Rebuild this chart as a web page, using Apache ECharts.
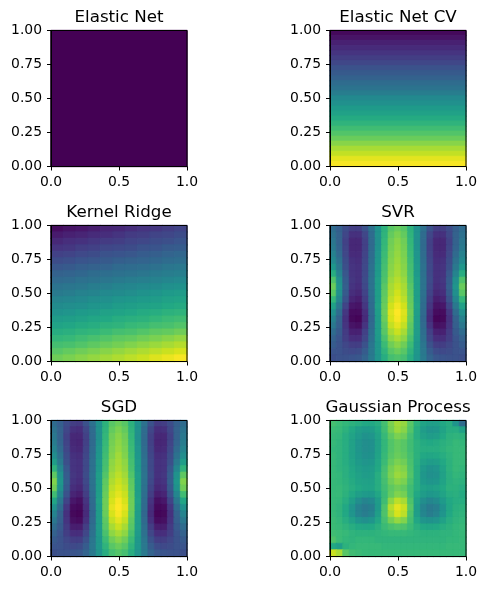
<!DOCTYPE html>
<html>
<head>
<meta charset="utf-8">
<style>html,body{margin:0;padding:0;background:#fff}#chart{width:486px;height:590px}</style>
<script src="https://cdn.jsdelivr.net/npm/echarts@6/dist/echarts.min.js"></script>
</head>
<body>
<div id="chart"></div>
<script>
var titles = ['Elastic Net', 'Elastic Net CV', 'Kernel Ridge', 'SVR', 'SGD', 'Gaussian Process'];
var xTickLabels = [0, 0.5, 1];
var yTickLabels = [0, 0.25, 0.5, 0.75, 1];
var viridis = ['#440154','#481a6c','#472f7d','#414487','#39568c','#31688e','#2a788e','#23888e','#1f988b','#22a884','#35b779','#54c568','#7ad151','#a5db36','#d2e21b','#fde725'];

var elasticNet = [[0]];
var elasticNetCV = [[2],[5],[9],[12],[15],[18],[21],[25],[28],[31],[35],[38],[42],[47],[50],[54],[57],[61],[65],[69],[73],[77],[82],[87],[91],[96],[99]];
var kernelRidge = [
[3,5,6,8,10,11,13,15,16,18,20],
[7,9,10,12,13,15,17,18,20,21,23],
[11,13,14,16,17,18,20,21,23,24,26],
[15,16,18,19,21,22,23,25,26,28,29],
[19,20,22,23,25,26,27,29,30,32,33],
[23,24,26,27,28,30,31,32,33,35,36],
[27,28,30,31,32,34,35,36,37,39,40],
[31,32,33,35,36,37,38,39,41,42,43],
[34,35,37,38,39,41,42,43,44,46,47],
[38,39,40,42,43,45,46,47,48,50,51],
[41,42,44,45,47,48,49,51,52,54,55],
[45,46,47,49,50,52,53,54,55,57,58],
[48,49,50,52,53,55,56,57,58,60,61],
[51,52,54,55,57,58,59,61,62,64,65],
[55,56,57,59,60,62,63,64,66,68,69],
[58,59,61,62,64,65,67,68,70,71,73],
[62,63,65,66,68,70,71,73,75,76,78],
[66,67,69,71,73,75,76,78,80,82,84],
[70,71,73,75,77,79,81,83,85,87,89],
[74,76,78,80,82,84,86,88,90,92,94],
[78,80,82,84,86,88,90,92,95,97,99]];
var svr = [
[35,30,23,18,18,25,37,51,64,74,77,74,64,51,37,25,18,18,23,30,35],
[37,31,21,14,14,21,35,51,65,76,80,76,65,51,35,21,14,14,21,31,37],
[39,31,19,11,11,19,34,50,66,78,82,78,66,50,34,19,11,11,19,31,39],
[41,32,20,11,11,19,34,51,67,79,83,79,67,51,34,19,11,11,20,32,41],
[44,34,21,12,12,20,35,52,68,80,84,80,68,52,35,20,12,12,21,34,44],
[47,37,23,14,13,21,36,53,69,81,85,81,69,53,36,21,13,14,23,37,47],
[53,40,24,15,14,22,37,54,70,82,86,82,70,54,37,22,14,15,24,40,53],
[62,45,27,15,14,22,37,54,71,83,87,83,71,54,37,22,14,15,27,45,62],
[72,50,29,16,14,23,38,56,72,85,89,85,72,56,38,23,14,16,29,50,72],
[77,52,30,15,13,22,38,56,74,87,91,87,74,56,38,22,13,15,30,52,77],
[74,50,28,13,11,20,37,56,75,88,93,88,75,56,37,20,11,13,28,50,74],
[66,46,25,10,8,18,36,56,76,90,95,90,76,56,36,18,8,10,25,46,66],
[57,40,20,6,5,16,35,57,77,93,98,93,77,57,35,16,5,6,20,40,57],
[50,35,16,3,3,13,34,56,78,95,100,95,78,56,34,13,3,3,16,35,50],
[44,31,14,2,1,12,33,55,77,94,99,94,77,55,33,12,1,2,14,31,44],
[40,30,15,5,4,15,34,55,75,91,96,91,75,55,34,15,4,5,15,30,40],
[35,28,17,9,9,19,36,55,74,87,92,87,74,55,36,19,9,9,17,28,35],
[31,26,18,13,13,21,37,54,71,83,87,83,71,54,37,21,13,13,18,26,31],
[29,25,21,18,18,25,39,53,68,78,82,78,68,53,39,25,18,18,21,25,29],
[26,25,23,22,23,29,40,53,65,74,77,74,65,53,40,29,23,22,23,25,26],
[24,25,25,26,27,32,41,52,62,70,72,70,62,52,41,32,27,26,25,25,24]];
var sgd = [
[35,30,23,18,17,25,37,51,64,74,77,74,64,51,37,25,17,18,23,30,35],
[38,31,21,14,13,21,35,51,65,76,80,76,65,51,35,21,13,14,21,31,38],
[40,31,19,11,11,19,34,50,66,78,82,78,66,50,34,19,11,11,19,31,40],
[42,32,20,11,10,19,34,51,67,79,83,79,67,51,34,19,10,11,20,32,42],
[45,34,21,12,11,20,35,52,68,80,84,80,68,52,35,20,11,12,21,34,45],
[49,37,23,14,13,21,36,53,69,81,86,81,69,53,36,21,13,14,23,37,49],
[56,41,24,15,14,22,37,54,70,83,87,83,70,54,37,22,14,15,24,41,56],
[65,46,27,15,14,22,37,54,71,84,88,84,71,54,37,22,14,15,27,46,65],
[75,51,29,16,14,23,38,56,73,86,90,86,73,56,38,23,14,16,29,51,75],
[81,53,30,15,13,22,38,56,75,88,92,88,75,56,38,22,13,15,30,53,81],
[78,51,28,13,11,20,37,56,76,90,94,90,76,56,37,20,11,13,28,51,78],
[69,46,25,10,8,18,36,56,77,92,96,92,77,56,36,18,8,10,25,46,69],
[59,40,20,6,4,15,35,57,78,94,99,94,78,57,35,15,4,6,20,40,59],
[51,35,16,3,2,13,34,56,78,96,100,96,78,56,34,13,2,3,16,35,51],
[45,31,14,2,1,12,33,55,77,94,99,94,77,55,33,12,1,2,14,31,45],
[40,30,15,4,3,14,34,55,75,91,96,91,75,55,34,14,3,4,15,30,40],
[35,28,17,8,8,18,36,55,74,87,92,87,74,55,36,18,8,8,17,28,35],
[31,26,18,13,13,21,37,54,71,83,87,83,71,54,37,21,13,13,18,26,31],
[28,25,21,18,18,25,39,53,68,78,82,78,68,53,39,25,18,18,21,25,28],
[26,25,23,22,23,29,40,53,65,74,77,74,65,53,40,29,23,22,23,25,26],
[24,25,25,26,27,32,41,52,62,70,73,70,62,52,41,32,27,26,25,25,24]];
var gaussianProcess = [
[70,68,66,64,62,60,60,62,70,80,86,84,74,64,58,56,56,60,62,52,35],
[68,67,64,60,56,54,55,60,69,79,85,82,73,62,55,52,53,58,62,62,57],
[67,66,62,58,54,51,52,58,67,75,80,78,70,62,57,55,56,60,64,65,64],
[67,65,62,57,52,49,50,57,66,73,76,74,69,64,61,60,61,63,65,67,66],
[66,65,62,57,52,49,50,57,66,73,76,74,69,64,62,62,62,64,66,67,67],
[67,65,62,57,53,50,51,58,67,74,77,75,70,64,60,59,60,62,65,67,67],
[67,65,62,58,54,52,53,59,68,76,80,78,71,63,57,55,56,60,64,67,67],
[67,65,63,59,56,54,55,60,70,79,83,81,72,62,54,51,52,58,64,67,66],
[67,66,63,60,57,55,56,62,71,80,85,83,73,62,53,50,51,57,63,66,65],
[67,66,64,61,58,57,57,62,70,78,82,80,71,62,54,52,53,58,63,65,64],
[67,67,65,62,60,58,58,62,69,75,78,76,69,62,57,56,57,60,64,64,62],
[67,67,64,60,56,54,54,59,68,76,81,79,69,60,55,53,54,58,62,63,61],
[67,66,62,56,49,45,47,55,69,83,90,87,72,57,49,46,48,54,60,62,62],
[67,65,60,52,44,41,43,54,72,89,96,92,74,55,45,41,43,51,59,63,64],
[67,65,60,52,45,42,45,56,72,86,94,90,72,56,46,42,45,52,60,64,65],
[68,66,62,57,52,50,52,59,70,79,84,81,70,59,52,51,52,57,62,65,66],
[68,67,65,62,60,59,60,63,68,71,73,72,68,63,60,59,60,62,64,66,67],
[69,68,67,65,64,64,64,65,66,67,67,67,66,65,64,64,64,65,65,66,67],
[72,68,66,65,66,66,66,65,65,65,65,65,65,65,65,65,65,65,66,66,67],
[60,56,64,66,67,67,67,67,66,66,66,66,66,66,66,66,66,66,67,67,67],
[92,87,74,69,68,67,67,67,67,67,67,67,67,67,67,67,67,67,67,67,67]];

var panels = [elasticNet, elasticNetCV, kernelRidge, svr, sgd, gaussianProcess];
var lefts = [51, 330];
var tops = [30.5, 225.5, 420.5];
var size = 136;
var font = '"DejaVu Sans"';

var option = {animation:false, backgroundColor:'#fff', title:[], grid:[], xAxis:[], yAxis:[], series:[]};

function range(n){var a=[];for(var i=0;i<n;i++)a.push(String(i));return a;}

panels.forEach(function(rows,p){
  var left = lefts[p%2], top = tops[Math.floor(p/2)];
  option.title.push({text:titles[p], left:left+size/2, top:top-21, padding:0, textAlign:'center',
    textStyle:{fontFamily:font, fontSize:16.7, fontWeight:'normal', color:'#000'}});
  option.grid.push({left:left, top:top, width:size, height:size});
  option.xAxis.push({gridIndex:p, type:'category', show:false, data:range(rows[0].length)});
  option.yAxis.push({gridIndex:p, type:'category', show:false, inverse:true, data:range(rows.length)});
  var data=[];
  rows.forEach(function(r,j){r.forEach(function(v,i){
    var c = echarts.color.lerp(v/100, viridis);
    data.push({value:[i,j,v], itemStyle:{color:c, borderColor:c, borderWidth:0.7}});
  });});
  option.series.push({type:'heatmap', xAxisIndex:p, yAxisIndex:p, data:data, progressive:0, silent:true, z:1});
});
panels.forEach(function(rows,p){
  var left = lefts[p%2], top = tops[Math.floor(p/2)];
  option.grid.push({left:left, top:top, width:size, height:size, show:true, z:5,
    backgroundColor:'transparent', borderColor:'#000', borderWidth:1});
  var style = {fontFamily:font, fontSize:13.9, color:'#000'};
  option.xAxis.push({gridIndex:6+p, type:'value', min:0, max:1, interval:xTickLabels[1]-xTickLabels[0], z:6,
    axisLine:{show:true,onZero:false,lineStyle:{color:'#000',width:1}},
    axisTick:{show:true,length:4,lineStyle:{color:'#000',width:1}},
    splitLine:{show:false},
    axisLabel:Object.assign({margin:9,showMinLabel:true,showMaxLabel:true,hideOverlap:false,formatter:function(v){return v.toFixed(1);}},style)});
  option.yAxis.push({gridIndex:6+p, type:'value', min:0, max:1, interval:yTickLabels[1]-yTickLabels[0], z:6,
    axisLine:{show:true,onZero:false,lineStyle:{color:'#000',width:1}},
    axisTick:{show:true,length:4,lineStyle:{color:'#000',width:1}},
    splitLine:{show:false},
    axisLabel:Object.assign({margin:9,showMinLabel:true,showMaxLabel:true,hideOverlap:false,formatter:function(v){return v.toFixed(2);}},style)});
});
var chart = echarts.init(document.getElementById('chart'), null, {renderer:'canvas', width:486, height:590});
chart.setOption(option);
</script>
</body>
</html>
